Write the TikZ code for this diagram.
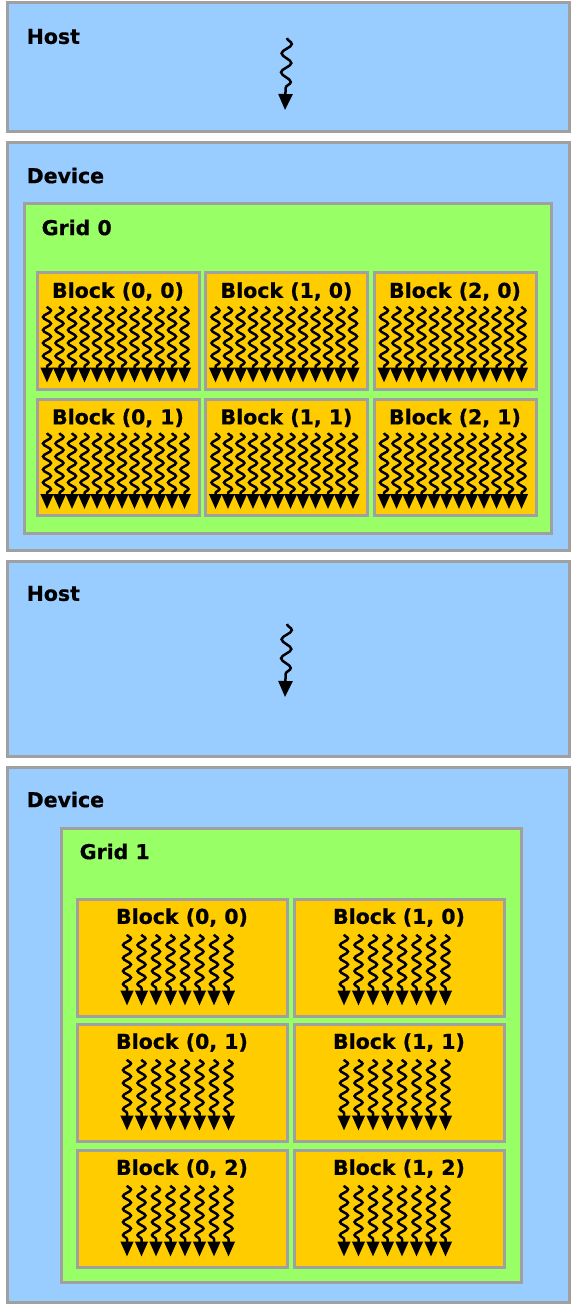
\documentclass[tikz,border=0pt]{standalone}
\usepackage{fontspec}
\setmainfont{DejaVu Sans}[BoldFeatures={FakeBold=0.6}]
\usetikzlibrary{arrows.meta,positioning,calc,decorations.pathmorphing}
\definecolor{hostblue}{HTML}{99CCFF}
\definecolor{gridgreen}{HTML}{99FF66}
\definecolor{blockorange}{HTML}{FFCC00}
\definecolor{edgegray}{HTML}{A0A0A0}

\begin{document}
\begin{tikzpicture}[>=Triangle,x=1pt,y=-1pt,font=\fontsize{20.5}{24}\selectfont\bfseries,
 panel/.style={draw=edgegray,line width=3pt,fill=hostblue,inner sep=0pt},
 gridbox/.style={draw=edgegray,line width=3pt,fill=gridgreen,inner sep=0pt},
 blk/.style={draw=edgegray,line width=3pt,fill=blockorange,inner sep=0pt,minimum height=116pt},
 lab/.style={anchor=west,inner sep=0pt},
 thread/.style={-{Triangle[length=15pt,width=12.5pt]},line width=2.5pt,decorate,
   decoration={snake,amplitude=4pt,segment length=13pt,post length=14pt}},
 hostthread/.style={-{Triangle[length=16pt,width=14pt]},line width=2.5pt,decorate,
   decoration={snake,amplitude=5pt,segment length=19pt,post length=16pt}}]
\useasboundingbox (0,0) rectangle (571,1305);
% host / device panels
\node[panel,minimum width=562pt,minimum height=129pt] (host1) at (288,67.5) {};
\node[panel,minimum width=562pt,minimum height=407pt] (dev1) at (288,346.5) {};
\node[panel,minimum width=562pt,minimum height=195pt] (host2) at (288,658.5) {};
\node[panel,minimum width=562pt,minimum height=535pt] (dev2) at (288,1034.5) {};
\node[lab] (host1-t) at ($(host1.north west)+(21,35)$) {Host};
\node[lab] (dev1-t) at ($(dev1.north west)+(21,34)$) {Device};
\node[lab] (host2-t) at ($(host2.north west)+(21,34)$) {Host};
\node[lab] (dev2-t) at ($(dev2.north west)+(21,34)$) {Device};
% host threads
\coordinate (h1a) at (287,38);
\coordinate (h1b) at (285,110);
\coordinate (h2a) at (287,624);
\coordinate (h2b) at (285,697);
\draw[hostthread] (h1a) -- (h1b);
\draw[hostthread] (h2a) -- (h2b);
% grids
\node[gridbox,minimum width=527pt,minimum height=329pt] (grid0) at (287.5,368.5) {};
\node[lab] (grid0-t) at ($(grid0.north west)+(19,25)$) {Grid 0};
\node[gridbox,minimum width=460pt,minimum height=454pt] (grid1) at (291,1055) {};
\node[lab] (grid1-t) at ($(grid1.north west)+(20,25)$) {Grid 1};
% blocks of grid 0
\foreach \n/\cx/\cy/\t in {b00/118/331/{(0, 0)},b10/286.5/331/{(1, 0)},b20/455/331/{(2, 0)},
  b01/118/457.5/{(0, 1)},b11/286.5/457.5/{(1, 1)},b21/455/457.5/{(2, 1)}}{
  \node[blk,minimum width=162pt] (\n) at (\cx,\cy) {};
  \node (\n-t) at ($(\n.north)+(0,20)$) {Block \t};
  \foreach \i in {0,...,11}
    \draw[thread] ($(\n.north)+(-71+\i*12.5,35)$) -- ($(\n.north)+(-71+\i*12.5,111)$);
}
% blocks of grid 1
\foreach \n/\cx/\cy/\t in {c00/182/957.5/{(0, 0)},c10/399/957.5/{(1, 0)},
  c01/182/1082.5/{(0, 1)},c11/399/1082.5/{(1, 1)},
  c02/182/1208.5/{(0, 2)},c12/399/1208.5/{(1, 2)}}{
  \node[blk,minimum width=210pt,minimum height=117pt] (\n) at (\cx,\cy) {};
  \node (\n-t) at ($(\n.north)+(0,20)$) {Block \t};
  \foreach \i in {0,...,7}
    \draw[thread] ($(\n.north)+(-55+\i*14.5,37)$) -- ($(\n.north)+(-55+\i*14.5,108)$);
}
\end{tikzpicture}
\end{document}
